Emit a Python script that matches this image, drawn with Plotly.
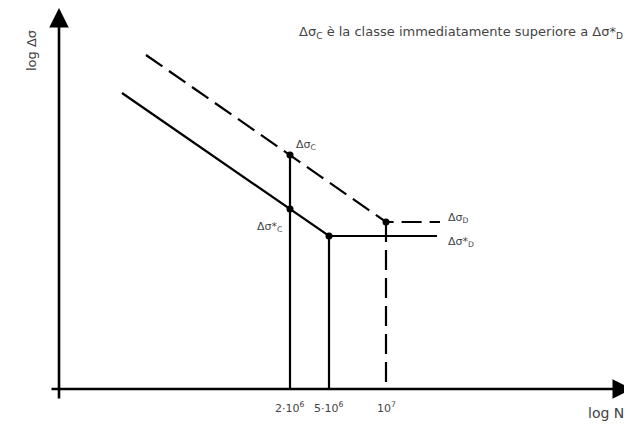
import plotly.graph_objects as go

# Schematic coordinates (arbitrary units)
dashed_x = [146, 386, 440]
dashed_y = [372, 205, 205]
solid_x = [122, 290, 329, 437]
solid_y = [334, 218, 191, 191]
base_y = 38
vline_x = [290, 329]
vline_top = [272, 191]
vdash_x = 386
vdash_top = 205
marker_x = [290, 290, 329, 386]
marker_y = [272, 218, 191, 205]
tick_x = [290, 329, 386]
tick_labels = ["2·10<sup>6</sup>", "5·10<sup>6</sup>", "10<sup>7</sup>"]

FONT = "DejaVu Sans, Verdana, sans-serif"
TXT = "#444444"

fig = go.Figure()
fig.add_trace(go.Scatter(x=dashed_x, y=dashed_y, mode="lines",
                         line=dict(color="black", width=2.2, dash="20px,8px")))
fig.add_trace(go.Scatter(x=solid_x, y=solid_y, mode="lines",
                         line=dict(color="black", width=2.2)))
for vx, vt in zip(vline_x, vline_top):
    fig.add_trace(go.Scatter(x=[vx, vx], y=[base_y, vt], mode="lines",
                             line=dict(color="black", width=2.2)))
fig.add_trace(go.Scatter(x=[vdash_x, vdash_x], y=[vdash_top, base_y], mode="lines",
                         line=dict(color="black", width=2.2, dash="20px,8px")))
fig.add_trace(go.Scatter(x=marker_x, y=marker_y, mode="markers",
                         marker=dict(color="black", size=7)))

ann = []
# axes arrows
ann.append(dict(x=59, y=419, ax=59, ay=27, xref="x", yref="y", axref="x", ayref="y",
                showarrow=True, arrowhead=2, arrowsize=1.5, arrowwidth=2.6,
                arrowcolor="black", text="", standoff=0, startstandoff=0))
ann.append(dict(x=632, y=base_y, ax=50, ay=base_y, xref="x", yref="y", axref="x", ayref="y",
                showarrow=True, arrowhead=2, arrowsize=1.5, arrowwidth=2.6,
                arrowcolor="black", text="", standoff=0, startstandoff=0))
for tx, tl in zip(tick_x, tick_labels):
    ann.append(dict(x=tx, y=20, text=tl, showarrow=False, xanchor="center", yanchor="middle",
                    font=dict(family=FONT, size=11, color=TXT)))
texts = [
    (294, 282, "Δσ<sub>C</sub>", "left", 11),
    (284, 200, "Δσ*<sub>C</sub>", "right", 11),
    (446, 209, "Δσ<sub>D</sub>", "left", 11),
    (446, 185, "Δσ*<sub>D</sub>", "left", 11),
    (586, 14, "log N", "left", 14),
    (297, 395, "Δσ<sub>C</sub> è la classe immediatamente superiore a Δσ*<sub>D</sub>", "left", 13),
]
for x, y, t, xa, fs in texts:
    ann.append(dict(x=x, y=y, text=t, showarrow=False, xanchor=xa, yanchor="middle",
                    font=dict(family=FONT, size=fs, color=TXT)))
ann.append(dict(x=31, y=376, text="log Δσ", textangle=-90, showarrow=False,
                xanchor="center", yanchor="middle",
                font=dict(family=FONT, size=13, color=TXT)))

# ranges shifted by the 8px page margin so marks land where the reference shows them
fig.update_layout(
    width=632, height=427, margin=dict(l=0, r=0, t=0, b=0),
    paper_bgcolor="white", plot_bgcolor="white", showlegend=False,
    xaxis=dict(range=[8, 640], visible=False, fixedrange=True),
    yaxis=dict(range=[-8, 419], visible=False, fixedrange=True),
    annotations=ann,
)
fig.write_html("out.html")
